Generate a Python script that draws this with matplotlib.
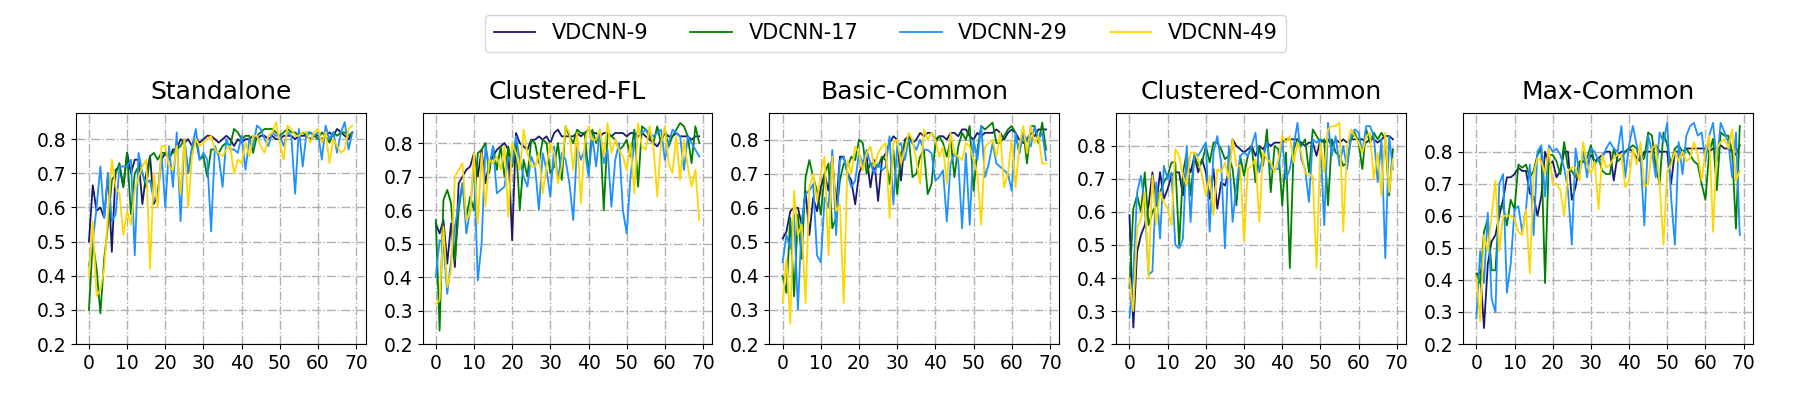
import numpy as np
import matplotlib.pyplot as plt

# accuracy per round (0..69) for each model
titles = ['Standalone', 'Clustered-FL', 'Basic-Common', 'Clustered-Common', 'Max-Common']
models = ['VDCNN-9', 'VDCNN-17', 'VDCNN-29', 'VDCNN-49']
colors = ['midnightblue', 'green', 'dodgerblue', 'gold']

# Standalone
sa_9 = [0.50, 0.665, 0.59, 0.60, 0.57, 0.70, 0.47, 0.71, 0.72, 0.66,
        0.76, 0.70, 0.74, 0.74, 0.61, 0.70, 0.75, 0.61, 0.64, 0.74,
        0.76, 0.74, 0.77, 0.77, 0.80, 0.79, 0.80, 0.78, 0.80, 0.79,
        0.80, 0.81, 0.81, 0.80, 0.79, 0.80, 0.81, 0.80, 0.78, 0.80,
        0.79, 0.80, 0.80, 0.81, 0.80, 0.81, 0.81, 0.80, 0.81, 0.80,
        0.80, 0.81, 0.81, 0.81, 0.80, 0.81, 0.81, 0.81, 0.80, 0.81,
        0.81, 0.80, 0.81, 0.82, 0.81, 0.83, 0.82, 0.81, 0.80, 0.82]
sa_17 = [0.30, 0.50, 0.42, 0.29, 0.45, 0.55, 0.68, 0.70, 0.73, 0.66,
         0.76, 0.58, 0.70, 0.72, 0.70, 0.66, 0.75, 0.76, 0.74, 0.76,
         0.76, 0.75, 0.76, 0.77, 0.78, 0.80, 0.70, 0.77, 0.80, 0.74,
         0.75, 0.69, 0.77, 0.77, 0.76, 0.78, 0.79, 0.78, 0.83, 0.82,
         0.80, 0.81, 0.81, 0.76, 0.81, 0.82, 0.83, 0.83, 0.83, 0.82,
         0.81, 0.82, 0.83, 0.82, 0.82, 0.81, 0.82, 0.81, 0.82, 0.81,
         0.80, 0.82, 0.81, 0.79, 0.82, 0.81, 0.82, 0.82, 0.81, 0.82]
sa_29 = [0.43, 0.50, 0.60, 0.72, 0.57, 0.70, 0.56, 0.58, 0.72, 0.72,
         0.72, 0.74, 0.46, 0.76, 0.70, 0.67, 0.68, 0.62, 0.63, 0.76,
         0.60, 0.78, 0.66, 0.82, 0.56, 0.80, 0.70, 0.78, 0.83, 0.74,
         0.76, 0.74, 0.53, 0.78, 0.75, 0.66, 0.80, 0.77, 0.77, 0.76,
         0.81, 0.71, 0.80, 0.78, 0.84, 0.83, 0.80, 0.78, 0.82, 0.81,
         0.81, 0.78, 0.82, 0.81, 0.64, 0.83, 0.72, 0.82, 0.82, 0.81,
         0.82, 0.74, 0.84, 0.80, 0.82, 0.76, 0.82, 0.85, 0.77, 0.82]
sa_49 = [0.40, 0.56, 0.34, 0.36, 0.42, 0.58, 0.74, 0.66, 0.64, 0.52,
         0.59, 0.55, 0.65, 0.69, 0.72, 0.74, 0.42, 0.70, 0.60, 0.78,
         0.78, 0.72, 0.71, 0.78, 0.64, 0.80, 0.60, 0.75, 0.80, 0.78,
         0.79, 0.80, 0.81, 0.77, 0.76, 0.75, 0.77, 0.78, 0.70, 0.74,
         0.73, 0.79, 0.75, 0.81, 0.81, 0.78, 0.76, 0.81, 0.82, 0.85,
         0.79, 0.74, 0.84, 0.83, 0.81, 0.81, 0.82, 0.82, 0.79, 0.82,
         0.83, 0.79, 0.82, 0.73, 0.80, 0.78, 0.76, 0.77, 0.83, 0.84]

# Clustered-FL
cf_9 = [0.56, 0.53, 0.57, 0.44, 0.56, 0.43, 0.68, 0.70, 0.72, 0.73,
        0.77, 0.70, 0.78, 0.68, 0.74, 0.76, 0.78, 0.79, 0.80, 0.78,
        0.51, 0.83, 0.80, 0.79, 0.78, 0.81, 0.81, 0.82, 0.81, 0.82,
        0.80, 0.83, 0.84, 0.82, 0.82, 0.82, 0.82, 0.83, 0.82, 0.83,
        0.84, 0.83, 0.83, 0.82, 0.83, 0.83, 0.82, 0.83, 0.83, 0.83,
        0.82, 0.83, 0.83, 0.82, 0.83, 0.82, 0.81, 0.80, 0.79, 0.81,
        0.83, 0.82, 0.82, 0.83, 0.82, 0.82, 0.82, 0.81, 0.82, 0.82]
cf_17 = [0.57, 0.24, 0.63, 0.66, 0.62, 0.45, 0.60, 0.68, 0.58, 0.64,
         0.60, 0.77, 0.78, 0.80, 0.71, 0.79, 0.72, 0.79, 0.70, 0.79,
         0.73, 0.80, 0.60, 0.75, 0.70, 0.81, 0.80, 0.74, 0.81, 0.80,
         0.71, 0.73, 0.80, 0.69, 0.85, 0.82, 0.80, 0.84, 0.83, 0.83,
         0.71, 0.84, 0.80, 0.84, 0.60, 0.83, 0.82, 0.81, 0.78, 0.79,
         0.81, 0.76, 0.84, 0.67, 0.85, 0.84, 0.82, 0.80, 0.85, 0.80,
         0.84, 0.79, 0.82, 0.84, 0.86, 0.85, 0.82, 0.74, 0.85, 0.80]
cf_29 = [0.40, 0.51, 0.50, 0.35, 0.45, 0.55, 0.62, 0.68, 0.53, 0.60,
         0.74, 0.39, 0.50, 0.79, 0.73, 0.79, 0.65, 0.66, 0.67, 0.76,
         0.74, 0.82, 0.75, 0.70, 0.67, 0.76, 0.73, 0.60, 0.77, 0.72,
         0.64, 0.79, 0.69, 0.77, 0.75, 0.68, 0.57, 0.79, 0.75, 0.78,
         0.70, 0.82, 0.73, 0.84, 0.74, 0.78, 0.61, 0.75, 0.80, 0.60,
         0.53, 0.70, 0.80, 0.84, 0.83, 0.84, 0.83, 0.82, 0.83, 0.84,
         0.75, 0.80, 0.84, 0.83, 0.82, 0.72, 0.82, 0.80, 0.78, 0.76]
cf_49 = [0.32, 0.33, 0.55, 0.37, 0.42, 0.70, 0.72, 0.74, 0.57, 0.59,
         0.77, 0.56, 0.77, 0.61, 0.75, 0.74, 0.76, 0.72, 0.79, 0.58,
         0.80, 0.77, 0.72, 0.84, 0.77, 0.73, 0.73, 0.77, 0.65, 0.73,
         0.80, 0.77, 0.68, 0.73, 0.85, 0.83, 0.72, 0.83, 0.62, 0.80,
         0.85, 0.81, 0.81, 0.84, 0.76, 0.86, 0.77, 0.81, 0.78, 0.76,
         0.72, 0.80, 0.65, 0.86, 0.79, 0.78, 0.85, 0.79, 0.64, 0.80,
         0.85, 0.74, 0.71, 0.82, 0.69, 0.81, 0.73, 0.67, 0.72, 0.57]

# Basic-Common
bc_9 = [0.51, 0.53, 0.59, 0.60, 0.60, 0.55, 0.65, 0.52, 0.63, 0.59,
        0.66, 0.70, 0.65, 0.75, 0.60, 0.75, 0.75, 0.70, 0.68, 0.61,
        0.70, 0.73, 0.75, 0.66, 0.74, 0.62, 0.74, 0.76, 0.79, 0.81,
        0.80, 0.68, 0.80, 0.81, 0.79, 0.80, 0.82, 0.81, 0.82, 0.82,
        0.80, 0.81, 0.81, 0.80, 0.82, 0.82, 0.81, 0.83, 0.83, 0.81,
        0.80, 0.82, 0.81, 0.82, 0.82, 0.82, 0.83, 0.82, 0.80, 0.82,
        0.83, 0.82, 0.80, 0.79, 0.80, 0.82, 0.81, 0.83, 0.83, 0.83]
bc_17 = [0.40, 0.35, 0.57, 0.34, 0.58, 0.45, 0.69, 0.74, 0.69, 0.65,
         0.58, 0.70, 0.73, 0.54, 0.57, 0.68, 0.73, 0.72, 0.75, 0.74,
         0.80, 0.79, 0.70, 0.73, 0.73, 0.72, 0.75, 0.74, 0.67, 0.77,
         0.64, 0.76, 0.79, 0.81, 0.69, 0.70, 0.75, 0.77, 0.64, 0.67,
         0.79, 0.81, 0.79, 0.75, 0.80, 0.69, 0.78, 0.82, 0.80, 0.84,
         0.65, 0.77, 0.84, 0.83, 0.84, 0.85, 0.79, 0.79, 0.81, 0.83,
         0.84, 0.82, 0.76, 0.83, 0.73, 0.84, 0.84, 0.79, 0.85, 0.77]
bc_29 = [0.44, 0.52, 0.48, 0.58, 0.30, 0.56, 0.64, 0.65, 0.67, 0.46,
         0.44, 0.63, 0.60, 0.77, 0.52, 0.74, 0.75, 0.70, 0.66, 0.68,
         0.76, 0.73, 0.77, 0.73, 0.70, 0.73, 0.71, 0.72, 0.81, 0.61,
         0.78, 0.79, 0.74, 0.80, 0.79, 0.77, 0.80, 0.77, 0.77, 0.76,
         0.68, 0.69, 0.71, 0.56, 0.73, 0.76, 0.74, 0.54, 0.76, 0.55,
         0.80, 0.74, 0.84, 0.69, 0.73, 0.79, 0.73, 0.72, 0.71, 0.70,
         0.65, 0.82, 0.76, 0.82, 0.80, 0.78, 0.84, 0.80, 0.82, 0.74]
bc_49 = [0.32, 0.45, 0.26, 0.65, 0.52, 0.55, 0.32, 0.66, 0.70, 0.62,
         0.70, 0.75, 0.46, 0.75, 0.59, 0.61, 0.32, 0.74, 0.70, 0.78,
         0.76, 0.71, 0.76, 0.78, 0.72, 0.76, 0.78, 0.79, 0.57, 0.79,
         0.80, 0.73, 0.77, 0.82, 0.80, 0.74, 0.67, 0.83, 0.80, 0.82,
         0.80, 0.75, 0.78, 0.67, 0.82, 0.76, 0.75, 0.74, 0.79, 0.78,
         0.74, 0.70, 0.55, 0.78, 0.79, 0.80, 0.75, 0.82, 0.66, 0.70,
         0.80, 0.66, 0.78, 0.84, 0.76, 0.84, 0.79, 0.81, 0.73, 0.73]

# Clustered-Common
cc_9 = [0.59, 0.25, 0.48, 0.53, 0.56, 0.62, 0.72, 0.62, 0.72, 0.64,
        0.67, 0.71, 0.72, 0.72, 0.65, 0.75, 0.72, 0.77, 0.72, 0.76,
        0.72, 0.64, 0.73, 0.61, 0.69, 0.68, 0.72, 0.82, 0.80, 0.79,
        0.78, 0.79, 0.80, 0.77, 0.80, 0.79, 0.81, 0.80, 0.81, 0.81,
        0.81, 0.82, 0.82, 0.82, 0.82, 0.81, 0.80, 0.81, 0.81, 0.77,
        0.82, 0.81, 0.82, 0.80, 0.82, 0.81, 0.82, 0.81, 0.82, 0.82,
        0.82, 0.82, 0.81, 0.82, 0.82, 0.81, 0.82, 0.83, 0.83, 0.82]
cc_17 = [0.37, 0.61, 0.65, 0.60, 0.72, 0.56, 0.60, 0.62, 0.66, 0.69,
         0.71, 0.75, 0.75, 0.50, 0.72, 0.78, 0.65, 0.77, 0.74, 0.75,
         0.80, 0.75, 0.81, 0.81, 0.79, 0.76, 0.77, 0.73, 0.62, 0.77,
         0.71, 0.77, 0.80, 0.69, 0.80, 0.74, 0.85, 0.66, 0.80, 0.79,
         0.62, 0.78, 0.43, 0.79, 0.82, 0.80, 0.82, 0.72, 0.85, 0.83,
         0.81, 0.82, 0.62, 0.82, 0.78, 0.77, 0.74, 0.75, 0.82, 0.84,
         0.81, 0.73, 0.85, 0.81, 0.84, 0.82, 0.84, 0.82, 0.65, 0.79]
cc_29 = [0.28, 0.41, 0.66, 0.71, 0.62, 0.41, 0.42, 0.69, 0.52, 0.74,
         0.70, 0.72, 0.50, 0.49, 0.52, 0.80, 0.57, 0.78, 0.77, 0.79,
         0.81, 0.54, 0.78, 0.83, 0.75, 0.49, 0.80, 0.57, 0.68, 0.77,
         0.78, 0.77, 0.80, 0.84, 0.72, 0.77, 0.81, 0.73, 0.73, 0.73,
         0.82, 0.70, 0.73, 0.80, 0.87, 0.76, 0.73, 0.63, 0.82, 0.81,
         0.82, 0.56, 0.87, 0.77, 0.83, 0.74, 0.80, 0.73, 0.83, 0.85,
         0.84, 0.78, 0.86, 0.86, 0.83, 0.69, 0.82, 0.46, 0.83, 0.73]
cc_49 = [0.40, 0.30, 0.55, 0.58, 0.66, 0.40, 0.71, 0.56, 0.66, 0.63,
         0.61, 0.56, 0.79, 0.77, 0.71, 0.68, 0.78, 0.78, 0.76, 0.71,
         0.65, 0.71, 0.59, 0.73, 0.72, 0.75, 0.70, 0.82, 0.74, 0.74,
         0.51, 0.73, 0.74, 0.76, 0.57, 0.78, 0.76, 0.75, 0.72, 0.76,
         0.83, 0.81, 0.83, 0.75, 0.81, 0.78, 0.72, 0.71, 0.71, 0.43,
         0.81, 0.72, 0.85, 0.86, 0.86, 0.87, 0.54, 0.80, 0.85, 0.83,
         0.81, 0.78, 0.83, 0.84, 0.70, 0.78, 0.65, 0.84, 0.66, 0.76]

# Max-Common
mc_9 = [0.41, 0.43, 0.25, 0.45, 0.52, 0.54, 0.60, 0.65, 0.72, 0.72,
        0.73, 0.75, 0.74, 0.74, 0.67, 0.66, 0.60, 0.66, 0.80, 0.76,
        0.77, 0.72, 0.74, 0.80, 0.80, 0.65, 0.69, 0.76, 0.77, 0.76,
        0.79, 0.77, 0.78, 0.79, 0.80, 0.80, 0.71, 0.79, 0.80, 0.80,
        0.81, 0.80, 0.78, 0.77, 0.80, 0.80, 0.80, 0.82, 0.80, 0.80,
        0.80, 0.70, 0.80, 0.80, 0.79, 0.81, 0.81, 0.81, 0.81, 0.81,
        0.81, 0.80, 0.81, 0.81, 0.82, 0.81, 0.81, 0.80, 0.79, 0.82]
mc_17 = [0.42, 0.39, 0.55, 0.59, 0.43, 0.43, 0.63, 0.63, 0.57, 0.65,
         0.62, 0.76, 0.75, 0.76, 0.72, 0.74, 0.79, 0.81, 0.39, 0.79,
         0.79, 0.77, 0.73, 0.83, 0.75, 0.74, 0.72, 0.77, 0.77, 0.78,
         0.82, 0.76, 0.78, 0.74, 0.73, 0.73, 0.81, 0.77, 0.78, 0.80,
         0.81, 0.82, 0.81, 0.77, 0.78, 0.86, 0.85, 0.75, 0.70, 0.86,
         0.82, 0.76, 0.81, 0.82, 0.80, 0.81, 0.79, 0.77, 0.76, 0.70,
         0.65, 0.80, 0.84, 0.68, 0.86, 0.85, 0.85, 0.80, 0.56, 0.88]
mc_29 = [0.28, 0.49, 0.39, 0.61, 0.34, 0.30, 0.70, 0.73, 0.36, 0.45,
         0.62, 0.63, 0.55, 0.62, 0.76, 0.54, 0.80, 0.82, 0.66, 0.82,
         0.80, 0.81, 0.79, 0.75, 0.68, 0.51, 0.81, 0.73, 0.80, 0.72,
         0.81, 0.80, 0.77, 0.78, 0.81, 0.83, 0.81, 0.80, 0.88, 0.72,
         0.82, 0.88, 0.82, 0.78, 0.57, 0.85, 0.80, 0.72, 0.86, 0.83,
         0.89, 0.66, 0.51, 0.83, 0.73, 0.85, 0.88, 0.89, 0.85, 0.86,
         0.77, 0.85, 0.89, 0.77, 0.89, 0.86, 0.83, 0.72, 0.86, 0.54]
mc_49 = [0.41, 0.27, 0.54, 0.49, 0.60, 0.71, 0.49, 0.60, 0.60, 0.60,
         0.59, 0.55, 0.54, 0.62, 0.42, 0.73, 0.78, 0.77, 0.73, 0.81,
         0.70, 0.70, 0.68, 0.60, 0.74, 0.75, 0.75, 0.71, 0.83, 0.76,
         0.73, 0.77, 0.62, 0.79, 0.75, 0.76, 0.78, 0.79, 0.79, 0.69,
         0.71, 0.81, 0.76, 0.83, 0.69, 0.70, 0.81, 0.82, 0.70, 0.51,
         0.74, 0.76, 0.80, 0.77, 0.80, 0.77, 0.78, 0.83, 0.79, 0.71,
         0.80, 0.85, 0.55, 0.81, 0.83, 0.84, 0.81, 0.87, 0.71, 0.74]

panels = [
    [sa_9, sa_17, sa_29, sa_49],
    [cf_9, cf_17, cf_29, cf_49],
    [bc_9, bc_17, bc_29, bc_49],
    [cc_9, cc_17, cc_29, cc_49],
    [mc_9, mc_17, mc_29, mc_49],
]

fig, axes = plt.subplots(1, 5, figsize=(18.04, 3.95), dpi=100)
plt.subplots_adjust(left=0.042, right=0.9717, bottom=0.129, top=0.715, wspace=0.197)

for ax, title, series in zip(axes, titles, panels):
    for vals, name, c in zip(series, models, colors):
        ax.plot(np.arange(len(vals)), vals, color=c, lw=1.3, label=name)
    ax.set_title(title, fontsize=18, pad=10)
    ax.set_ylim(bottom=0.2)
    ax.set_xticks(range(0, 71, 10))
    ax.set_yticks(np.arange(0.2, 0.81, 0.1))
    ax.tick_params(labelsize=13.5)
    ax.grid(True, linestyle='-.', color='#b0b0b0', lw=1)

handles, labels = axes[0].get_legend_handles_labels()
fig.legend(handles, labels, loc='upper center', bbox_to_anchor=(0.491, 0.962),
           ncol=4, fontsize=15, borderaxespad=0)

plt.savefig('out.png', dpi=100)
